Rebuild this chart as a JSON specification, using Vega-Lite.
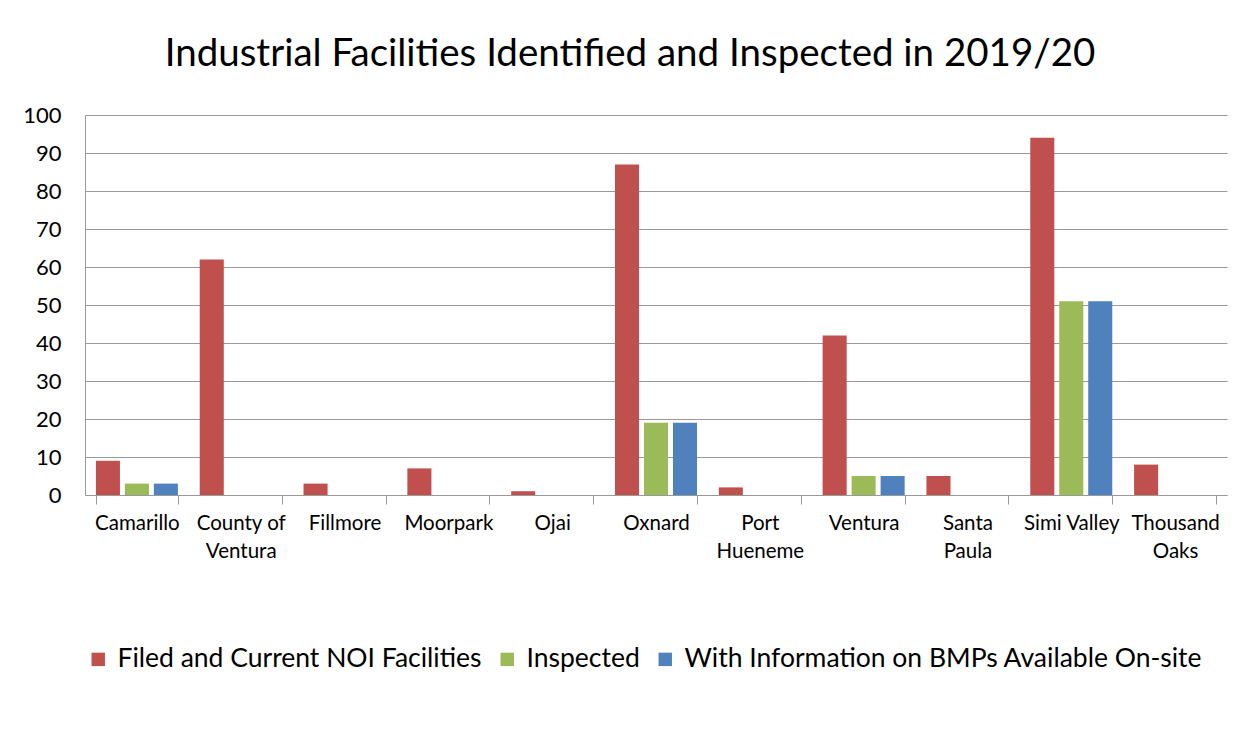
{
  "$schema": "https://vega.github.io/schema/vega-lite/v6.json",
  "autosize": {"type": "none"},
  "width": 1142,
  "height": 380,
  "padding": {"left": 85, "top": 115, "right": 25, "bottom": 241},
  "background": "white",
  "title": {
    "text": "Industrial Facilities Identified and Inspected in 2019/20",
    "font": "Lato",
    "fontSize": 38.5,
    "fontWeight": "normal",
    "color": "#000000",
    "anchor": "middle",
    "dx": -26,
    "offset": 30
  },
  "data": {
    "values": [
      {"city": "Camarillo", "series": "Filed and Current NOI Facilities", "value": 9},
      {"city": "Camarillo", "series": "Inspected", "value": 3},
      {"city": "Camarillo", "series": "With Information on BMPs Available On-site", "value": 3},
      {"city": "County of Ventura", "series": "Filed and Current NOI Facilities", "value": 62},
      {"city": "County of Ventura", "series": "Inspected", "value": 0},
      {"city": "County of Ventura", "series": "With Information on BMPs Available On-site", "value": 0},
      {"city": "Fillmore", "series": "Filed and Current NOI Facilities", "value": 3},
      {"city": "Fillmore", "series": "Inspected", "value": 0},
      {"city": "Fillmore", "series": "With Information on BMPs Available On-site", "value": 0},
      {"city": "Moorpark", "series": "Filed and Current NOI Facilities", "value": 7},
      {"city": "Moorpark", "series": "Inspected", "value": 0},
      {"city": "Moorpark", "series": "With Information on BMPs Available On-site", "value": 0},
      {"city": "Ojai", "series": "Filed and Current NOI Facilities", "value": 1},
      {"city": "Ojai", "series": "Inspected", "value": 0},
      {"city": "Ojai", "series": "With Information on BMPs Available On-site", "value": 0},
      {"city": "Oxnard", "series": "Filed and Current NOI Facilities", "value": 87},
      {"city": "Oxnard", "series": "Inspected", "value": 19},
      {"city": "Oxnard", "series": "With Information on BMPs Available On-site", "value": 19},
      {"city": "Port Hueneme", "series": "Filed and Current NOI Facilities", "value": 2},
      {"city": "Port Hueneme", "series": "Inspected", "value": 0},
      {"city": "Port Hueneme", "series": "With Information on BMPs Available On-site", "value": 0},
      {"city": "Ventura", "series": "Filed and Current NOI Facilities", "value": 42},
      {"city": "Ventura", "series": "Inspected", "value": 5},
      {"city": "Ventura", "series": "With Information on BMPs Available On-site", "value": 5},
      {"city": "Santa Paula", "series": "Filed and Current NOI Facilities", "value": 5},
      {"city": "Santa Paula", "series": "Inspected", "value": 0},
      {"city": "Santa Paula", "series": "With Information on BMPs Available On-site", "value": 0},
      {"city": "Simi Valley", "series": "Filed and Current NOI Facilities", "value": 94},
      {"city": "Simi Valley", "series": "Inspected", "value": 51},
      {"city": "Simi Valley", "series": "With Information on BMPs Available On-site", "value": 51},
      {"city": "Thousand Oaks", "series": "Filed and Current NOI Facilities", "value": 8},
      {"city": "Thousand Oaks", "series": "Inspected", "value": 0},
      {"city": "Thousand Oaks", "series": "With Information on BMPs Available On-site", "value": 0}
    ]
  },
  "mark": {"type": "bar"},
  "encoding": {
    "x": {
      "field": "city",
      "type": "nominal",
      "sort": null,
      "title": null,
      "scale": {"paddingInner": 0.21, "paddingOuter": 0.105},
      "axis": {
        "labelAngle": 0,
        "labelFont": "Lato",
        "labelFontSize": 20.5,
        "labelColor": "#000000",
        "labelPadding": 9,
        "labelLineHeight": 28,
        "labelBaseline": "top",
        "labelLimit": 200,
        "tickBand": "extent",
        "tickSize": 9,
        "tickColor": "#999999",
        "domainColor": "#999999",
        "grid": false,
        "labelExpr": "datum.label == 'County of Ventura' ? ['County of', 'Ventura'] : datum.label == 'Port Hueneme' ? ['Port', 'Hueneme'] : datum.label == 'Santa Paula' ? ['Santa', 'Paula'] : datum.label == 'Thousand Oaks' ? ['Thousand', 'Oaks'] : datum.label"
      }
    },
    "xOffset": {
      "field": "series",
      "type": "nominal",
      "sort": null,
      "scale": {"paddingInner": 0.17, "paddingOuter": 0}
    },
    "y": {
      "field": "value",
      "type": "quantitative",
      "title": null,
      "scale": {"domain": [0, 100], "nice": false},
      "axis": {
        "values": [0, 10, 20, 30, 40, 50, 60, 70, 80, 90, 100],
        "labelFont": "Lato",
        "labelFontSize": 22,
        "labelColor": "#000000",
        "labelPadding": 24,
        "ticks": false,
        "domain": true,
        "domainColor": "#999999",
        "gridColor": "#999999",
        "gridWidth": 1.2
      }
    },
    "color": {
      "field": "series",
      "type": "nominal",
      "sort": null,
      "scale": {
        "domain": ["Filed and Current NOI Facilities", "Inspected", "With Information on BMPs Available On-site"],
        "range": ["#C0504D", "#9BBB59", "#4F81BD"]
      },
      "legend": {
        "title": null,
        "orient": "bottom",
        "direction": "horizontal",
        "symbolType": "square",
        "symbolSize": 180,
        "symbolStrokeWidth": 0,
        "labelFont": "Lato",
        "labelFontSize": 26.5,
        "labelColor": "#000000",
        "labelLimit": 700,
        "labelOffset": 6,
        "columnPadding": 12,
        "offset": 84
      }
    }
  },
  "config": {
    "view": {"stroke": null}
  }
}
